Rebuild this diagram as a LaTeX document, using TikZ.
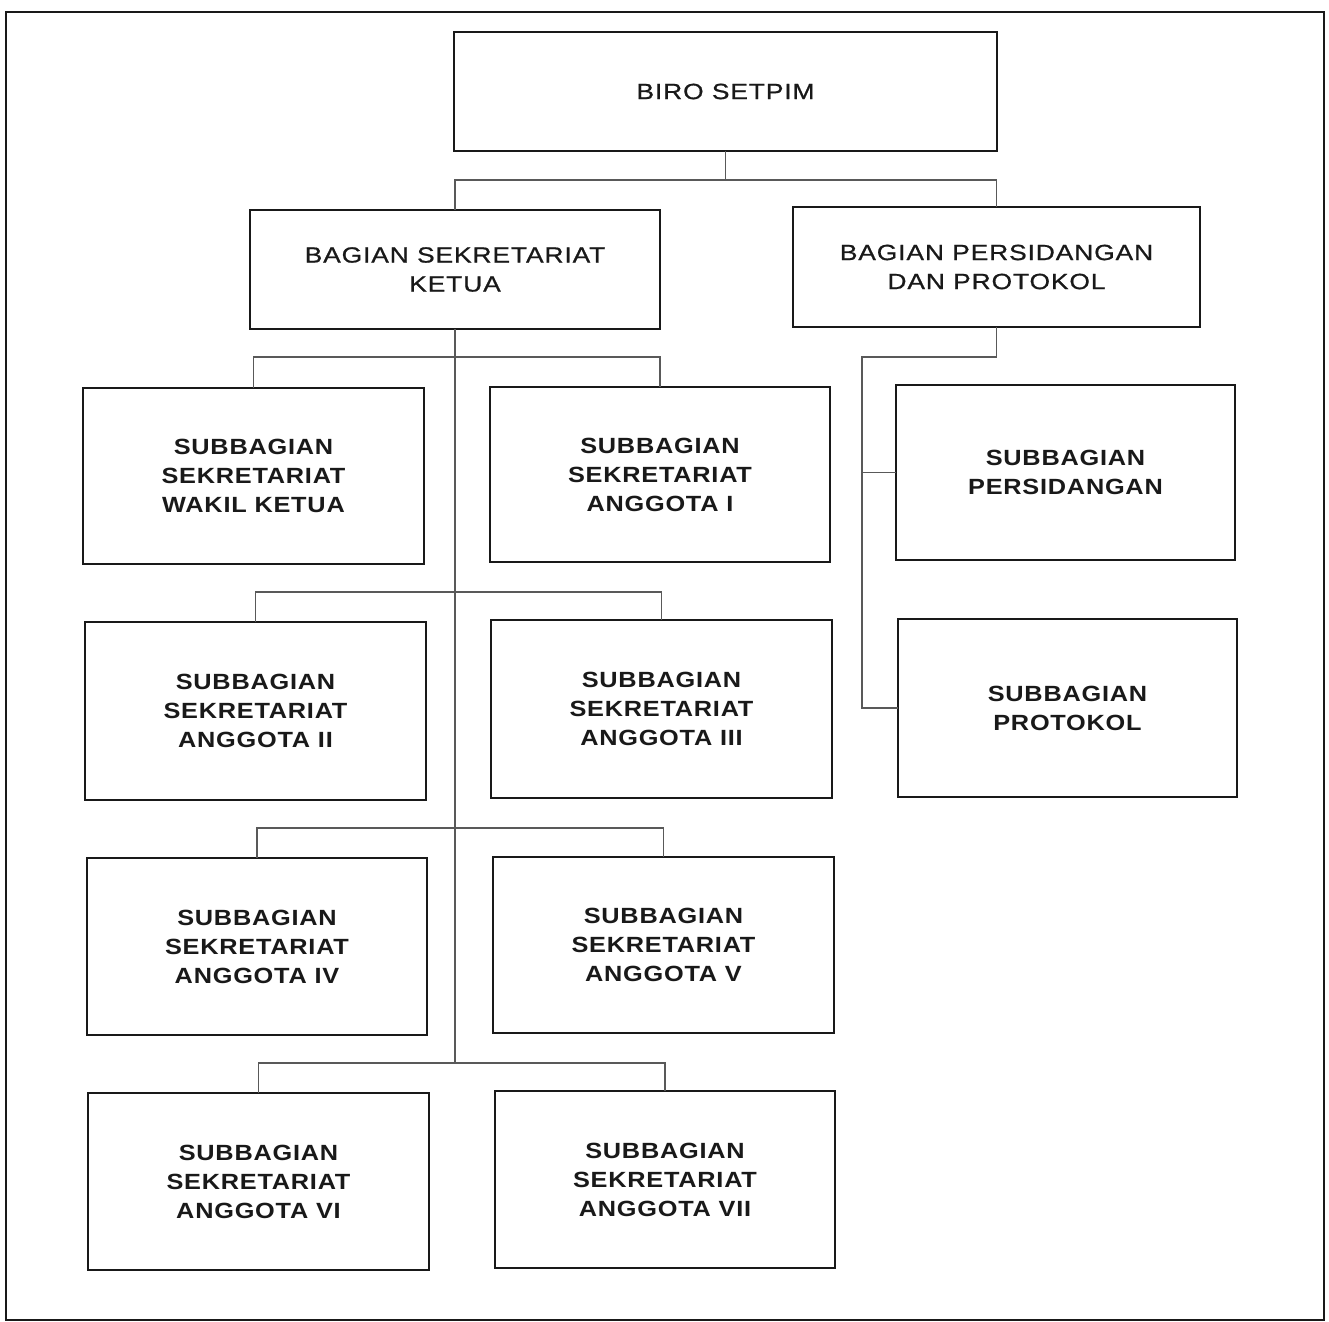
\documentclass[tikz,border=0pt]{standalone}
\usepackage{fontspec}
\newfontfamily\regf[FakeStretch=1.2,LetterSpace=4,FakeBold=0.8]{Liberation Sans}
\newfontfamily\subf[FakeStretch=1.15,LetterSpace=3.5]{Liberation Sans}
\newcommand\bx[7]{\node[#1, minimum width={(#5-#3)*0.5pt}, minimum height={(#6-#4)*0.5pt}] (#2) at ({(#3+#5)/2},{(#4+#6)/2}) {#7};}
\begin{document}
\begin{tikzpicture}[x=0.5pt,y=-0.5pt,
  boxbase/.style={draw=black!90, line width=1pt, inner sep=0pt, outer sep=0pt, align=center, text=black!90},
  topbox/.style={boxbase, font=\regf\fontsize{11}{14.5}\selectfont},
  subbox/.style={boxbase, font=\subf\bfseries\fontsize{11}{14.5}\selectfont},
  conn/.style={draw=black!65, line width=0.55pt},
  frame/.style={draw=black!90, line width=1.3pt}]
\useasboundingbox (0,0) rectangle (1329,1322);
\draw[frame] (6,12) rectangle (1324,1320);
% boxes
\bx{topbox}{biro}{454}{32}{997}{151}{BIRO SETPIM}
\bx{topbox}{bsk}{250}{210}{660}{329}{BAGIAN SEKRETARIAT\\KETUA}
\bx{topbox}{bpp}{793}{207}{1200}{327}{BAGIAN PERSIDANGAN\\DAN PROTOKOL}
\bx{subbox}{wk}{83}{388}{424}{564}{SUBBAGIAN\\SEKRETARIAT\\WAKIL KETUA}
\bx{subbox}{a1}{490}{387}{830}{562}{SUBBAGIAN\\SEKRETARIAT\\ANGGOTA I}
\bx{subbox}{a2}{85}{622}{426}{800}{SUBBAGIAN\\SEKRETARIAT\\ANGGOTA II}
\bx{subbox}{a3}{491}{620}{832}{798}{SUBBAGIAN\\SEKRETARIAT\\ANGGOTA III}
\bx{subbox}{a4}{87}{858}{427}{1035}{SUBBAGIAN\\SEKRETARIAT\\ANGGOTA IV}
\bx{subbox}{a5}{493}{857}{834}{1033}{SUBBAGIAN\\SEKRETARIAT\\ANGGOTA V}
\bx{subbox}{a6}{88}{1093}{429}{1270}{SUBBAGIAN\\SEKRETARIAT\\ANGGOTA VI}
\bx{subbox}{a7}{495}{1091}{835}{1268}{SUBBAGIAN\\SEKRETARIAT\\ANGGOTA VII}
\bx{subbox}{pers}{896}{385}{1235}{560}{SUBBAGIAN\\PERSIDANGAN}
\bx{subbox}{prot}{898}{619}{1237}{797}{SUBBAGIAN\\PROTOKOL}
% bar coordinates
\coordinate (t0) at (0,180);
\coordinate (b1) at (0,357);
\coordinate (b2) at (0,592);
\coordinate (b3) at (0,828);
\coordinate (b4) at (0,1063);
\coordinate (rt) at (862,357);
% connectors
\draw[conn] (biro.south) -- (biro.south |- t0);
\draw[conn] (bsk.north) -- (bsk.north |- t0) -| (bpp.north);
\draw[conn] (bsk.south) -- (bsk.south |- b4);
\draw[conn] (wk.north) -- (wk.north |- b1) -| (a1.north);
\draw[conn] (a2.north) -- (a2.north |- b2) -| (a3.north);
\draw[conn] (a4.north) -- (a4.north |- b3) -| (a5.north);
\draw[conn] (a6.north) -- (a6.north |- b4) -| (a7.north);
\draw[conn] (bpp.south) |- (rt) -- (rt |- prot.west) -- (prot.west);
\draw[conn] (rt |- pers.west) -- (pers.west);
\end{tikzpicture}
\end{document}
